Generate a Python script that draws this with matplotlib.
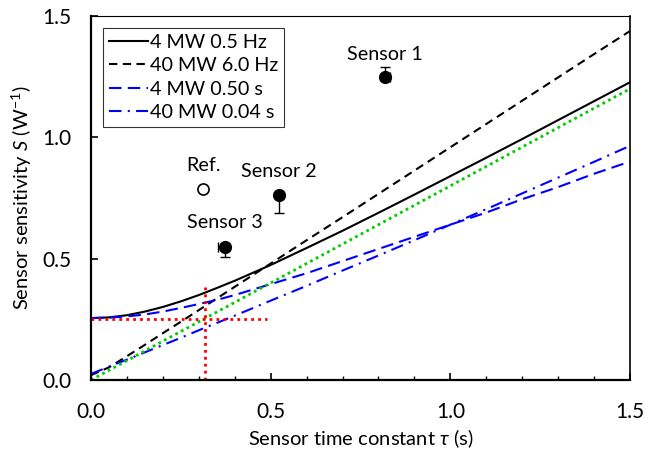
import matplotlib
matplotlib.use("Agg")
import matplotlib.pyplot as plt
from matplotlib.ticker import MultipleLocator

plt.rcParams['font.family'] = ['Lato', 'DejaVu Sans']
plt.rcParams['mathtext.fontset'] = 'custom'
plt.rcParams['mathtext.rm'] = 'Lato'
plt.rcParams['mathtext.it'] = 'Lato:italic'
plt.rcParams['mathtext.fallback'] = 'stixsans'

# ---- data ----
tau = [0.0, 0.05, 0.1, 0.15, 0.2, 0.25, 0.3, 0.35, 0.4, 0.5, 0.6, 0.7, 0.8, 0.9,
       1.0, 1.1, 1.2, 1.3, 1.4, 1.5]
s_4mw_hz = [0.255, 0.258, 0.267, 0.282, 0.301, 0.324, 0.350, 0.379, 0.409, 0.474,
            0.544, 0.615, 0.689, 0.764, 0.840, 0.916, 0.993, 1.071, 1.149, 1.227]
s_40mw_hz = [0.020, 0.052, 0.098, 0.145, 0.193, 0.240, 0.288, 0.336, 0.384, 0.480,
             0.576, 0.671, 0.767, 0.863, 0.959, 1.055, 1.151, 1.247, 1.343, 1.438]
s_4mw_s = [0.255, 0.257, 0.262, 0.270, 0.282, 0.297, 0.313, 0.330, 0.350, 0.395,
           0.440, 0.490, 0.540, 0.590, 0.640, 0.690, 0.745, 0.795, 0.850, 0.900]
s_40mw_s = [0.025, 0.055, 0.084, 0.114, 0.144, 0.174, 0.205, 0.235, 0.265, 0.327,
            0.388, 0.451, 0.513, 0.576, 0.640, 0.704, 0.769, 0.834, 0.899, 0.965]
green_x = [0.0, 1.5]
green_y = [0.0, 1.20]

red_h_x = [0.0, 0.49]
red_h_y = [0.253, 0.253]
red_v_x = [0.318, 0.318]
red_v_y = [0.0, 0.385]

sensor_names = ["Sensor 1", "Sensor 2", "Sensor 3"]
sensor_x = [0.819, 0.524, 0.373]
sensor_y = [1.248, 0.764, 0.550]
sensor_yerr_lo = [0.0, 0.075, 0.045]
sensor_yerr_hi = [0.040, 0.0, 0.0]
sensor_xerr_lo = [0.0, 0.0, 0.020]
sensor_xerr_hi = [0.012, 0.0, 0.0]
label_pos = [(0.818, 1.343), (0.523, 0.860), (0.373, 0.649)]

ref_x = [0.312]
ref_y = [0.789]
ref_label_pos = (0.312, 0.884)

legend_labels = ["4 MW 0.5 Hz", "40 MW 6.0 Hz", "4 MW 0.50 s", "40 MW 0.04 s"]

# ---- figure ----
fig = plt.figure(figsize=(6.46, 4.53), dpi=100)
ax = fig.add_axes([91/646, 1-380/453, (630-91)/646, (380-16)/453])

lw = 1.5
l1, = ax.plot(tau, s_4mw_hz, color='black', lw=lw, ls='-')
l2, = ax.plot(tau, s_40mw_hz, color='black', lw=lw, ls=(0, (4, 2.6)))
l3, = ax.plot(tau, s_4mw_s, color='#0000ff', lw=lw, ls=(0, (6, 3)))
l4, = ax.plot(tau, s_40mw_s, color='#0000ff', lw=lw, ls=(0, (6, 3, 1, 3)))
ax.plot(green_x, green_y, color='#00cc00', lw=2.0, ls=(0, (1, 1.3)),
        dash_capstyle='butt')
ax.plot(red_h_x, red_h_y, color='#ff0000', lw=2.0, ls=(0, (1, 1.5)))
ax.plot(red_v_x, red_v_y, color='#ff0000', lw=2.0, ls=(0, (1, 1.5)))

ax.errorbar(sensor_x, sensor_y,
            yerr=[sensor_yerr_lo, sensor_yerr_hi],
            xerr=[sensor_xerr_lo, sensor_xerr_hi],
            fmt='o', color='black', ms=8.5, elinewidth=1.0, capsize=3.5,
            capthick=1.0, zorder=5)
ax.plot(ref_x, ref_y, 'o', mfc='white', mec='black', mew=1.2, ms=8, zorder=5)

fs_txt = 14.2
for name, (px, py) in zip(sensor_names, label_pos):
    ax.text(px, py, name, ha='center', va='center', fontsize=fs_txt)
ax.text(ref_label_pos[0], ref_label_pos[1], "Ref.", ha='center', va='center',
        fontsize=fs_txt)

ax.set_xlim(0, 1.5)
ax.set_ylim(0, 1.5)
ax.xaxis.set_major_locator(MultipleLocator(0.5))
ax.xaxis.set_minor_locator(MultipleLocator(0.1))
ax.yaxis.set_major_locator(MultipleLocator(0.5))
ax.xaxis.set_major_formatter(plt.FuncFormatter(lambda v, p: f"{v:.1f}"))
ax.yaxis.set_major_formatter(plt.FuncFormatter(lambda v, p: f"{v:.1f}"))
ax.tick_params(axis='x', which='major', direction='in', length=5, width=1.2,
               pad=16, labelsize=15)
ax.tick_params(axis='x', which='minor', direction='in', length=3, width=1.0)
ax.tick_params(axis='y', which='major', direction='in', length=5, width=1.2,
               pad=14, labelsize=15)
ax.tick_params(top=False, right=False)

ax.spines['left'].set_linewidth(1.6)
ax.spines['bottom'].set_linewidth(1.6)
ax.spines['right'].set_linewidth(1.2)
ax.spines['top'].set_linewidth(0.8)

ax.set_xlabel(r"Sensor time constant $\tau$ (s)", fontsize=14.5, labelpad=4)
ax.set_ylabel(r"Sensor sensitivity $S$ (W$^{-1}$)", fontsize=14.5, labelpad=6)

leg = ax.legend([l1, l2, l3, l4], legend_labels, loc='upper left',
                bbox_to_anchor=(0.022, 0.967), borderaxespad=0,
                fontsize=14.2, frameon=True, fancybox=False,
                handlelength=2.0, handletextpad=0.1, labelspacing=0.32,
                borderpad=0.3)
leg.get_frame().set_edgecolor('black')
leg.get_frame().set_linewidth(0.8)

fig.savefig("out.png", dpi=100)
